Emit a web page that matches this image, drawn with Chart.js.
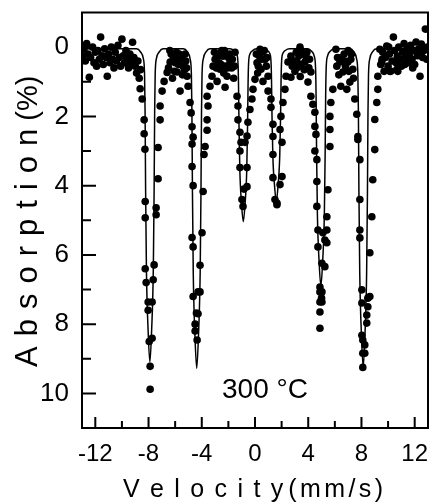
<!DOCTYPE html>
<html lang="en">
<head>
    <meta charset="UTF-8">
    <title>Mössbauer spectrum, 300 °C</title>
    <script src="https://cdn.jsdelivr.net/npm/chart.js"></script>
    <style>
        html, body {
            margin: 0;
            padding: 0;
            background: #fff;
        }
        canvas {
            display: block;
        }
    </style>
</head>
<body>
    <canvas id="spectrum" width="433" height="503"></canvas>

    <script>
        const velocity = [
            -12.95,-12.85,-12.75,-12.65,-12.55,-12.45,-12.35,-12.2,-12.1,-12.0,-11.9,-11.8,-11.7,-11.6,-11.5,-11.4,-11.3,-11.2,-11.1,-11.0,-10.9,-10.8,-10.7,-10.6,-10.5,-10.4,-10.3,-10.2,-10.1,-10.0,-9.9,-9.8,-9.7,-9.6,-9.5,-9.4,-9.3,-9.2,-9.1,-9.0,-8.9,-8.8,-8.7,-8.6,
            -8.63,-8.48,-8.33,-8.33,-8.27,-8.25,-8.25,-8.25,-8.18,-8.03,-8.03,-7.95,-7.88,-7.88,
            -7.73,-7.73,-7.65,-7.58,-7.43,-7.43,-7.28,-7.28,-7.13,-7.13,-6.98,-6.83,-6.6,-6.38,
            -6.5,-6.3,-6.2,-6.15,-6.0,-5.9,-5.85,-5.75,-5.63,-5.63,-5.5,-5.4,-5.3,-5.2,-5.1,-5.03,
            -6.4,-6.05,-5.95,-5.7,-5.45,-5.25,-5.15,
            -4.88,-4.8,-4.73,-4.65,-4.73,-4.73,-4.65,-4.73,-4.65,-4.65,-4.5,-4.5,-4.35,
            -4.28,-4.28,-4.13,-3.98,-3.9,-3.83,-3.75,-3.6,-3.6,-3.53,-3.6,-3.38,-3.23,-3.15,-4.13,-4.4,
            -3.0,-2.85,-2.85,-2.7,-2.63,-2.5,-2.4,-2.35,-2.25,-2.2,-2.1,-2.0,-1.88,-1.75,-1.6,-1.5,
            -3.05,-2.9,-2.75,-2.55,-2.3,-2.05,-1.9,-1.7,-1.55,
            -1.35,-1.28,-1.28,-1.13,-1.05,-1.13,-1.13,-0.98,-0.9,-0.83,-0.6,-0.6,-0.75,-0.6,-0.53,-0.38,-0.23,-0.15,0.0,
            0.15,0.2,0.3,0.38,0.45,0.55,0.6,0.75,0.85,0.98,
            0.1,0.25,0.5,0.7,0.9,
            0.98,1.2,1.2,1.35,1.35,1.35,1.35,1.5,1.65,1.65,1.88,2.03,2.03,1.88,1.95,2.1,2.25,2.33,2.48,
            2.7,2.7,2.9,3.0,3.1,3.23,3.38,3.4,3.5,3.6,3.75,3.85,3.98,4.05,4.2,
            2.8,3.15,3.3,3.45,3.7,3.9,4.1,
            4.2,4.35,4.5,4.5,4.58,4.5,4.65,4.65,4.65,4.73,4.73,4.88,4.88,4.88,4.88,4.88,
            5.03,5.03,5.03,5.0,5.1,5.25,5.4,5.4,5.48,5.63,5.63,5.63,5.7,5.85,5.25,5.4,
            6.08,6.2,6.3,6.38,6.45,6.6,6.7,6.8,6.9,6.98,7.0,7.13,7.2,7.35,
            6.15,6.5,6.75,7.05,7.25,7.4,
            7.5,7.65,7.73,7.73,7.88,7.88,7.88,7.88,8.03,8.03,8.03,8.1,8.1,8.1,
            8.25,8.4,8.4,8.48,8.63,8.63,8.78,8.85,9.0,9.0,9.15,9.23,9.23,9.53,9.38,8.25,8.48,
            9.45,9.55,9.6,9.7,9.8,9.9,10.0,10.05,10.1,10.13,10.2,10.3,10.4,10.5,10.6,10.65,10.7,10.73,10.8,10.9,11.0,11.1,11.2,11.25,11.3,11.4,11.5,11.6,11.7,11.8,11.85,11.9,12.0,12.1,12.2,12.3,12.4,12.45,12.5,12.6,12.7,12.8,12.9,12.95
        ];
        const absorption = [
            0.25,0.05,0.4,-0.1,0.2,0.87,0.3,0.0,0.45,0.15,0.55,0.1,0.35,-0.29,0.25,0.5,0.05,0.3,0.84,0.2,0.45,0.0,0.35,0.6,0.15,0.4,-0.05,0.3,0.55,-0.23,0.25,0.45,0.1,0.35,0.6,0.2,0.45,-0.14,0.3,0.55,0.75,0.4,0.9,0.65,
            1.2,1.5,2.1,2.5,2.95,4.46,4.93,6.4,6.8,7.36,7.6,8.5,9.22,9.88,
            8.41,7.36,6.72,6.29,4.84,4.64,3.8,2.9,2.1,1.7,1.27,0.99,0.73,0.43,
            0.6,0.2,0.9,0.26,0.45,0.15,0.72,0.5,0.35,1.27,0.3,0.55,0.65,0.4,0.84,1.13,
            0.1,0.7,0.3,0.2,0.8,0.2,0.6,
            1.6,1.9,2.3,2.6,2.8,3.45,4.0,5.5,5.77,7.2,8.0,8.2,8.46,
            7.7,7.07,6.3,5.36,4.17,3.1,2.87,2.4,2.1,1.7,1.42,1.13,0.84,0.55,7.07,7.68,
            0.35,0.2,0.99,0.45,0.64,0.1,0.26,0.75,1.16,0.55,0.84,0.3,0.43,0.6,0.9,0.15,
            0.15,0.6,0.25,0.5,0.1,0.6,0.2,0.35,0.55,
            1.42,1.7,2.1,2.46,2.75,3.0,3.48,4.4,4.6,4.1,4.03,3.48,2.75,2.57,2.17,1.8,1.5,1.22,0.93,
            0.45,0.75,0.25,0.06,0.64,0.15,0.99,0.35,0.55,0.84,
            0.2,0.55,0.35,0.1,0.3,
            1.27,1.5,1.74,2.23,2.58,3.1,3.77,4.4,4.5,4.55,3.97,3.74,2.75,2.38,2.0,1.6,1.22,0.84,0.43,
            0.26,0.87,0.4,0.7,0.15,0.58,0.0,0.85,0.5,0.2,0.43,0.3,1.01,0.6,0.72,
            0.55,0.4,0.25,0.1,0.65,0.15,0.35,
            1.42,1.65,1.88,2.29,2.52,3.0,3.25,3.88,4.6,5.28,5.77,6.93,7.07,7.36,7.65,8.12,
            6.24,7.07,7.36,7.25,5.36,5.57,4.9,5.28,4.12,2.87,2.38,2.0,1.6,1.22,6.34,5.65,
            0.06,0.3,0.8,0.43,1.13,0.72,0.2,0.55,1.22,0.43,0.1,1.01,0.35,0.64,
            0.55,0.3,0.4,0.7,0.2,0.9,
            1.5,1.94,2.58,2.67,3.25,4.4,5.28,5.51,7.01,7.39,8.32,8.46,8.84,9.25,
            8.6,7.97,7.74,7.5,7.2,5.94,4.9,3.83,2.96,2.09,1.6,1.22,0.84,0.43,0.06,8.84,7.25,
            0.5,0.35,0.15,0.7,0.3,-0.03,0.55,0.0,0.2,0.7,0.7,0.4,-0.29,0.1,0.45,0.65,0.26,0.7,0.0,0.35,0.55,0.15,-0.1,0.5,0.3,0.06,0.45,0.2,-0.05,0.35,0.6,0.1,0.5,-0.15,0.25,0.05,0.84,0.15,-0.09,0.3,0.1,-0.52,0.35,0.0
        ];

        // fitted sextet
        const fitVelocity = [
            -13,
            -8.9,-8.6,-8.4,-8.3,-8.26,-8.22,-8.16,-8.03,-7.9,-7.77,-7.64,-7.58,-7.54,-7.5,-7.4,-7.2,-6.9,
            -5.38,-5.08,-4.88,-4.78,-4.74,-4.7,-4.64,-4.51,-4.38,-4.25,-4.12,-4.06,-4.02,-3.98,-3.88,-3.68,-3.38,
            -1.88,-1.58,-1.38,-1.28,-1.24,-1.2,-1.14,-1.01,-0.88,-0.75,-0.62,-0.56,-0.52,-0.48,-0.38,-0.18,0.12,
            0.6,0.9,1.1,1.2,1.24,1.28,1.34,1.47,1.6,1.73,1.86,1.92,1.96,2.0,2.1,2.3,2.6,
            3.95,4.25,4.45,4.55,4.59,4.63,4.69,4.82,4.95,5.08,5.21,5.27,5.31,5.35,5.45,5.65,5.95,
            7.13,7.43,7.63,7.73,7.77,7.81,7.87,8.0,8.13,8.26,8.39,8.45,8.49,8.53,8.63,8.83,9.13,
            13
        ];
        const fitAbsorption = [
            0.05,
            0.05,0.14,0.32,0.77,1.86,4.12,6.39,8.2,9.1,8.2,6.39,4.12,1.86,0.77,0.32,0.14,0.05,
            0.05,0.14,0.33,0.79,1.9,4.2,6.51,8.36,9.28,8.36,6.51,4.2,1.9,0.79,0.33,0.14,0.05,
            0.05,0.1,0.2,0.45,1.05,2.3,3.54,4.54,5.04,4.54,3.54,2.3,1.05,0.45,0.2,0.1,0.05,
            0.05,0.09,0.18,0.4,0.93,2.03,3.13,4.01,4.45,4.01,3.13,2.03,0.93,0.4,0.18,0.09,0.05,
            0.05,0.12,0.26,0.6,1.42,3.13,4.85,6.22,6.9,6.22,4.85,3.13,1.42,0.6,0.26,0.12,0.05,
            0.05,0.14,0.33,0.79,1.89,4.19,6.49,8.33,9.25,8.33,6.49,4.19,1.89,0.79,0.33,0.14,0.05,
            0.05
        ];

        const xTicks = [-12, -8, -4, 0, 4, 8, 12];
        const xTickMarks = [-12, -10, -8, -6, -4, -2, 0, 2, 4, 6, 8, 10, 12];
        const yTicks = [0, 2, 4, 6, 8, 10];
        const yTickMarks = [0, 1, 2, 3, 4, 5, 6, 7, 8, 9, 10];

        const FONT = "'Liberation Sans', Arial, Helvetica, sans-serif";

        // letters drawn one by one with a gap, like the spaced axis titles
        function spacedWidth(ctx, text, gap) {
            let w = 0;
            for (const ch of text) w += ctx.measureText(ch).width + gap;
            return w - gap;
        }
        function spacedText(ctx, text, x, y, gap) {
            for (const ch of text) {
                ctx.fillText(ch, x, y);
                x += ctx.measureText(ch).width + gap;
            }
            return x - gap;
        }

        const framePlugin = {
            id: 'framePlugin',
            afterDraw(chart) {
                const ctx = chart.ctx;
                const a = chart.chartArea;
                const xs = chart.scales.x, ys = chart.scales.y;
                ctx.save();
                ctx.strokeStyle = '#000';
                ctx.fillStyle = '#000';

                // inward ticks
                ctx.lineWidth = 2;
                ctx.beginPath();
                xTickMarks.forEach(v => {
                    const px = xs.getPixelForValue(v);
                    const len = v % 4 === 0 ? 11 : 7;
                    ctx.moveTo(px, a.bottom);
                    ctx.lineTo(px, a.bottom - len);
                });
                yTickMarks.forEach(v => {
                    const py = ys.getPixelForValue(v);
                    const len = v % 2 === 0 ? 14 : 9;
                    ctx.moveTo(a.left, py);
                    ctx.lineTo(a.left + len, py);
                });
                ctx.stroke();

                // box
                ctx.lineWidth = 2;
                ctx.strokeRect(a.left, a.top, a.right - a.left, a.bottom - a.top);

                // x title
                ctx.textBaseline = 'alphabetic';
                ctx.textAlign = 'left';
                ctx.font = '25px ' + FONT;
                const w1 = spacedWidth(ctx, 'Velocity', 10.4);
                const w2 = spacedWidth(ctx, '(mm/s)', 3.4);
                let x0 = 253 - (w1 + 5 + w2) / 2;
                x0 = spacedText(ctx, 'Velocity', x0, 497, 10.4);
                spacedText(ctx, '(mm/s)', x0 + 5, 497, 3.4);

                // y title, rotated
                ctx.save();
                ctx.translate(37, (a.top + a.bottom) / 2 + 1);
                ctx.rotate(-Math.PI / 2);
                ctx.font = '31px ' + FONT;
                const t1 = spacedWidth(ctx, 'Absorption', 10);
                ctx.font = '29px ' + FONT;
                const t2 = ctx.measureText('(%)').width;
                let y0 = -(t1 + 8 + t2) / 2;
                ctx.font = '31px ' + FONT;
                y0 = spacedText(ctx, 'Absorption', y0, 0, 10);
                ctx.font = '29px ' + FONT;
                ctx.fillText('(%)', y0 + 8, 0);
                ctx.restore();

                // temperature note
                ctx.font = '28px ' + FONT;
                ctx.textAlign = 'center';
                ctx.fillText('300 °C', xs.getPixelForValue(0.75), ys.getPixelForValue(10.14));
                ctx.restore();
            }
        };

        const points = velocity.map((v, i) => ({ x: v, y: absorption[i] }));
        const fit = fitVelocity.map((v, i) => ({ x: v, y: fitAbsorption[i] }));

        new Chart(document.getElementById('spectrum'), {
            type: 'scatter',
            data: {
                datasets: [
                    {
                        type: 'line',
                        data: fit,
                        borderColor: '#000',
                        borderWidth: 1.5,
                        pointRadius: 0,
                        fill: false,
                        cubicInterpolationMode: 'monotone'
                    },
                    {
                        data: points,
                        backgroundColor: '#000',
                        borderWidth: 0,
                        pointRadius: 3.8
                    }
                ]
            },
            options: {
                responsive: false,
                devicePixelRatio: 1,
                animation: false,
                layout: { padding: { top: 12.5, right: 5, left: 0, bottom: 0 } },
                plugins: {
                    legend: { display: false },
                    tooltip: { enabled: false }
                },
                scales: {
                    x: {
                        type: 'linear',
                        min: -13,
                        max: 13,
                        grid: { display: false, drawTicks: false },
                        border: { display: false },
                        afterBuildTicks: s => { s.ticks = xTicks.map(v => ({ value: v })); },
                        afterFit: s => { s.height = 75; s.paddingLeft = 0; s.paddingRight = 0; },
                        ticks: {
                            color: '#000',
                            padding: 12,
                            maxRotation: 0,
                            autoSkip: false,
                            font: { size: 24, family: FONT }
                        }
                    },
                    y: {
                        type: 'linear',
                        min: -1,
                        max: 11,
                        reverse: true,
                        grid: { display: false, drawTicks: false },
                        border: { display: false },
                        afterBuildTicks: s => { s.ticks = yTicks.map(v => ({ value: v })); },
                        afterFit: s => { s.width = 82; s.paddingTop = 0; s.paddingBottom = 0; },
                        ticks: {
                            color: '#000',
                            padding: 13,
                            autoSkip: false,
                            font: { size: 26, family: FONT }
                        }
                    }
                }
            },
            plugins: [framePlugin]
        });
    </script>
</body>
</html>
